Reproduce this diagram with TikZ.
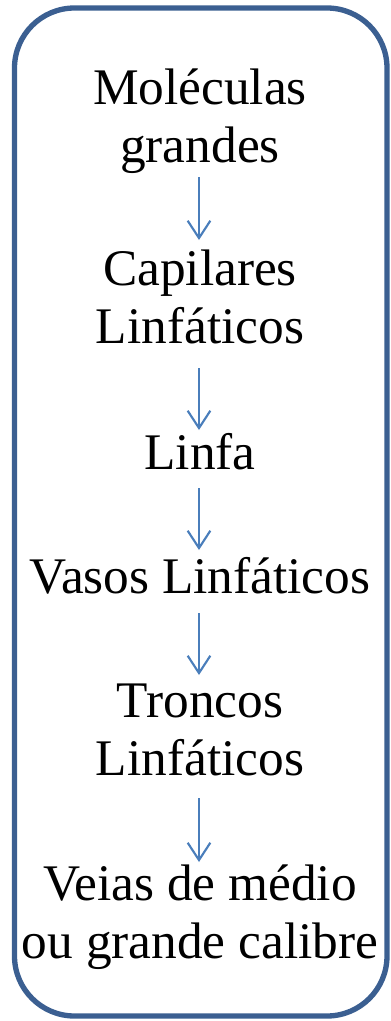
\documentclass[tikz,border=0pt]{standalone}
\usepackage{fontspec}
\setmainfont{Liberation Serif}
\usetikzlibrary{arrows.meta,calc}
\definecolor{framecol}{RGB}{59,95,145}
\definecolor{arrowcol}{RGB}{74,126,187}
\begin{document}
\begin{tikzpicture}[x=0.75pt,y=-0.75pt,
  lbl/.style={inner sep=0pt,outer sep=0pt,align=center,anchor=north,
    font=\fontsize{38.5}{43.5}\selectfont},
  arr/.style={draw=arrowcol,line width=1.6pt,
    -{Straight Barb[length=13pt,width=17pt,line width=1.6pt]}},
  frame/.style={draw=framecol,line width=4pt,rounded corners=45pt}]
\useasboundingbox (0,0) rectangle (390,1021);
\draw[frame] (14.5,8) rectangle (387,1016);
\node[lbl] (n1) at (200,63.4) {\strut Moléculas\\\strut grandes};
\node[lbl] (n2) at (200,244.4) {\strut Capilares\\\strut Linfáticos};
\node[lbl] (n3) at (200,428.4) {\strut Linfa};
\node[lbl] (n4) at (200,552.4) {\strut Vasos Linfáticos};
\node[lbl] (n5) at (200,676.4) {\strut Troncos\\\strut Linfáticos};
\node[lbl] (n6) at (200,859.4) {\strut Veias de médio\\\strut ou grande calibre};
\draw[arr] ($(n1.south)+(-1,-2.4)$) -- ($(n2.north)+(-1,-4.4)$);
\draw[arr] ($(n2.south)+(-1,7.6)$) -- ($(n3.north)+(-1,1.6)$);
\draw[arr] ($(n3.south)+(-1,1.6)$) -- ($(n4.north)+(-1,-2.4)$);
\draw[arr] ($(n4.south)+(-1,2.6)$) -- ($(n5.north)+(-1,-1.4)$);
\draw[arr] ($(n5.south)+(-1,5.6)$) -- ($(n6.north)+(-1,2.6)$);
\end{tikzpicture}
\end{document}
